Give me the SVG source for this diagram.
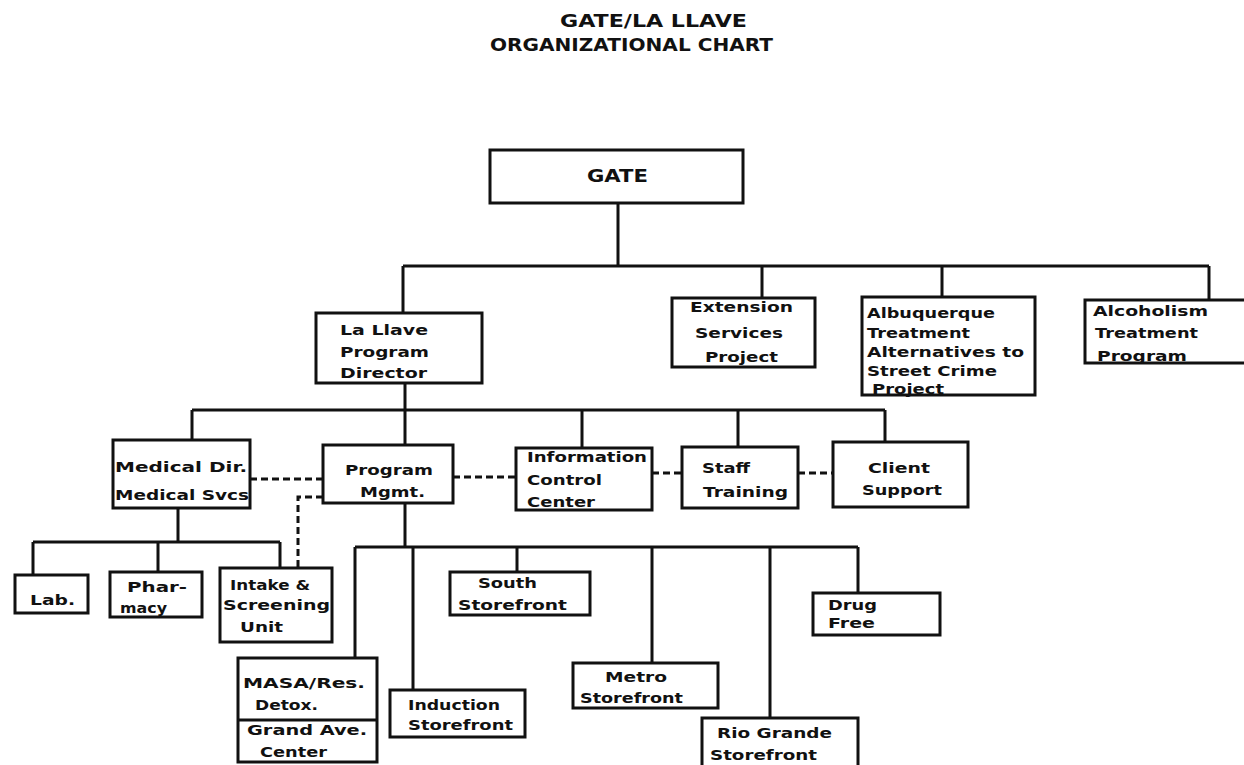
<svg xmlns="http://www.w3.org/2000/svg" width="1244" height="765" viewBox="0 0 1244 765">
<style>
.bg{fill:#ffffff}
.box{fill:#ffffff;stroke:#111;stroke-width:3}
.ln{fill:none;stroke:#111;stroke-width:3}
.dash{fill:none;stroke:#111;stroke-width:3;stroke-dasharray:7 4}
.t{font-family:"DejaVu Sans","Liberation Sans",sans-serif;font-weight:bold;font-size:14px;fill:#111}
.title{font-family:"DejaVu Sans","Liberation Sans",sans-serif;font-weight:bold;font-size:17px;fill:#111}
</style>
<rect class="bg" x="0" y="0" width="1244" height="765"/>
<g id="title">
<text class="title" x="560" y="27" textLength="187" lengthAdjust="spacingAndGlyphs">GATE/LA LLAVE</text>
<text class="title" x="490" y="51" textLength="283" lengthAdjust="spacingAndGlyphs">ORGANIZATIONAL CHART</text>
</g>
<g id="connectors">
<path class="ln" d="M618 203V266M403 266H1209M403 266V313M762 266V298M942 266V297M1209 266V300"/>
<path class="ln" d="M405 383V410M192 410H885M192 410V440M405 410V445M582 410V448M738 410V447M885 410V442"/>
<path class="ln" d="M178 508V542M33 542H280M33 542V575M158 542V572M280 542V568"/>
<path class="ln" d="M405 503V547M355 547H858M355 547V658M413 547V690M517 547V572M652 547V663M770 547V718M858 547V593"/>
<path class="dash" d="M250 479H323M453 477H516M652 473H682M798 473H833"/>
<path class="dash" d="M323 497H298V568"/>
</g>
<g id="gate">
<rect class="box" x="490" y="150" width="253" height="53"/>
<text class="title" x="587" y="182" textLength="61" lengthAdjust="spacingAndGlyphs">GATE</text>
</g>
<g id="lallave">
<rect class="box" x="316" y="313" width="166" height="70"/>
<text class="t" x="340" y="335" textLength="88" lengthAdjust="spacingAndGlyphs">La Llave</text>
<text class="t" x="340" y="357" textLength="89" lengthAdjust="spacingAndGlyphs">Program</text>
<text class="t" x="340" y="378" textLength="87" lengthAdjust="spacingAndGlyphs">Director</text>
</g>
<g id="extension">
<rect class="box" x="672" y="298" width="143" height="69"/>
<text class="t" x="690" y="312" textLength="103" lengthAdjust="spacingAndGlyphs">Extension</text>
<text class="t" x="695" y="338" textLength="88" lengthAdjust="spacingAndGlyphs">Services</text>
<text class="t" x="705" y="362" textLength="73" lengthAdjust="spacingAndGlyphs">Project</text>
</g>
<g id="albuquerque">
<rect class="box" x="862" y="297" width="173" height="98"/>
<text class="t" x="867" y="318" textLength="128" lengthAdjust="spacingAndGlyphs">Albuquerque</text>
<text class="t" x="867" y="338" textLength="103" lengthAdjust="spacingAndGlyphs">Treatment</text>
<text class="t" x="867" y="357" textLength="157" lengthAdjust="spacingAndGlyphs">Alternatives to</text>
<text class="t" x="867" y="376" textLength="130" lengthAdjust="spacingAndGlyphs">Street Crime</text>
<text class="t" x="872" y="394" textLength="72" lengthAdjust="spacingAndGlyphs">Project</text>
</g>
<g id="alcoholism">
<rect class="box" x="1085" y="300" width="170" height="63"/>
<text class="t" x="1093" y="316" textLength="115" lengthAdjust="spacingAndGlyphs">Alcoholism</text>
<text class="t" x="1095" y="338" textLength="103" lengthAdjust="spacingAndGlyphs">Treatment</text>
<text class="t" x="1097" y="361" textLength="90" lengthAdjust="spacingAndGlyphs">Program</text>
</g>
<g id="medical">
<rect class="box" x="113" y="440" width="137" height="68"/>
<text class="t" x="115" y="472" textLength="132" lengthAdjust="spacingAndGlyphs">Medical Dir.</text>
<text class="t" x="115" y="500" textLength="134" lengthAdjust="spacingAndGlyphs">Medical Svcs</text>
</g>
<g id="program-mgmt">
<rect class="box" x="323" y="445" width="130" height="58"/>
<text class="t" x="345" y="475" textLength="88" lengthAdjust="spacingAndGlyphs">Program</text>
<text class="t" x="360" y="497" textLength="65" lengthAdjust="spacingAndGlyphs">Mgmt.</text>
</g>
<g id="info-control">
<rect class="box" x="516" y="448" width="136" height="62"/>
<text class="t" x="527" y="462" textLength="120" lengthAdjust="spacingAndGlyphs">Information</text>
<text class="t" x="527" y="485" textLength="75" lengthAdjust="spacingAndGlyphs">Control</text>
<text class="t" x="527" y="507" textLength="68" lengthAdjust="spacingAndGlyphs">Center</text>
</g>
<g id="staff-training">
<rect class="box" x="682" y="447" width="116" height="61"/>
<text class="t" x="702" y="473" textLength="48" lengthAdjust="spacingAndGlyphs">Staff</text>
<text class="t" x="703" y="497" textLength="85" lengthAdjust="spacingAndGlyphs">Training</text>
</g>
<g id="client-support">
<rect class="box" x="833" y="442" width="135" height="65"/>
<text class="t" x="868" y="473" textLength="62" lengthAdjust="spacingAndGlyphs">Client</text>
<text class="t" x="862" y="495" textLength="80" lengthAdjust="spacingAndGlyphs">Support</text>
</g>
<g id="lab">
<rect class="box" x="15" y="575" width="73" height="38"/>
<text class="t" x="30" y="605" textLength="45" lengthAdjust="spacingAndGlyphs">Lab.</text>
</g>
<g id="pharmacy">
<rect class="box" x="110" y="572" width="92" height="45"/>
<text class="t" x="127" y="592" textLength="60" lengthAdjust="spacingAndGlyphs">Phar-</text>
<text class="t" x="120" y="613" textLength="47" lengthAdjust="spacingAndGlyphs">macy</text>
</g>
<g id="intake">
<rect class="box" x="220" y="568" width="112" height="74"/>
<text class="t" x="230" y="590" textLength="80" lengthAdjust="spacingAndGlyphs">Intake &amp;</text>
<text class="t" x="223" y="610" textLength="107" lengthAdjust="spacingAndGlyphs">Screening</text>
<text class="t" x="240" y="632" textLength="43" lengthAdjust="spacingAndGlyphs">Unit</text>
</g>
<g id="masa">
<rect class="box" x="238" y="658" width="139" height="104"/>
<path class="ln" d="M238 720H377"/>
<text class="t" x="243" y="688" textLength="122" lengthAdjust="spacingAndGlyphs">MASA/Res.</text>
<text class="t" x="255" y="710" textLength="63" lengthAdjust="spacingAndGlyphs">Detox.</text>
<text class="t" x="247" y="735" textLength="120" lengthAdjust="spacingAndGlyphs">Grand Ave.</text>
<text class="t" x="260" y="757" textLength="67" lengthAdjust="spacingAndGlyphs">Center</text>
</g>
<g id="induction">
<rect class="box" x="390" y="690" width="135" height="47"/>
<text class="t" x="408" y="710" textLength="92" lengthAdjust="spacingAndGlyphs">Induction</text>
<text class="t" x="408" y="730" textLength="105" lengthAdjust="spacingAndGlyphs">Storefront</text>
</g>
<g id="south">
<rect class="box" x="450" y="572" width="140" height="43"/>
<text class="t" x="478" y="588" textLength="59" lengthAdjust="spacingAndGlyphs">South</text>
<text class="t" x="458" y="610" textLength="109" lengthAdjust="spacingAndGlyphs">Storefront</text>
</g>
<g id="metro">
<rect class="box" x="573" y="663" width="145" height="45"/>
<text class="t" x="605" y="682" textLength="62" lengthAdjust="spacingAndGlyphs">Metro</text>
<text class="t" x="580" y="703" textLength="103" lengthAdjust="spacingAndGlyphs">Storefront</text>
</g>
<g id="rio-grande">
<rect class="box" x="702" y="718" width="156" height="52"/>
<text class="t" x="717" y="738" textLength="115" lengthAdjust="spacingAndGlyphs">Rio Grande</text>
<text class="t" x="710" y="760" textLength="107" lengthAdjust="spacingAndGlyphs">Storefront</text>
</g>
<g id="drug-free">
<rect class="box" x="813" y="593" width="127" height="42"/>
<text class="t" x="828" y="610" textLength="49" lengthAdjust="spacingAndGlyphs">Drug</text>
<text class="t" x="828" y="628" textLength="47" lengthAdjust="spacingAndGlyphs">Free</text>
</g>
</svg>
